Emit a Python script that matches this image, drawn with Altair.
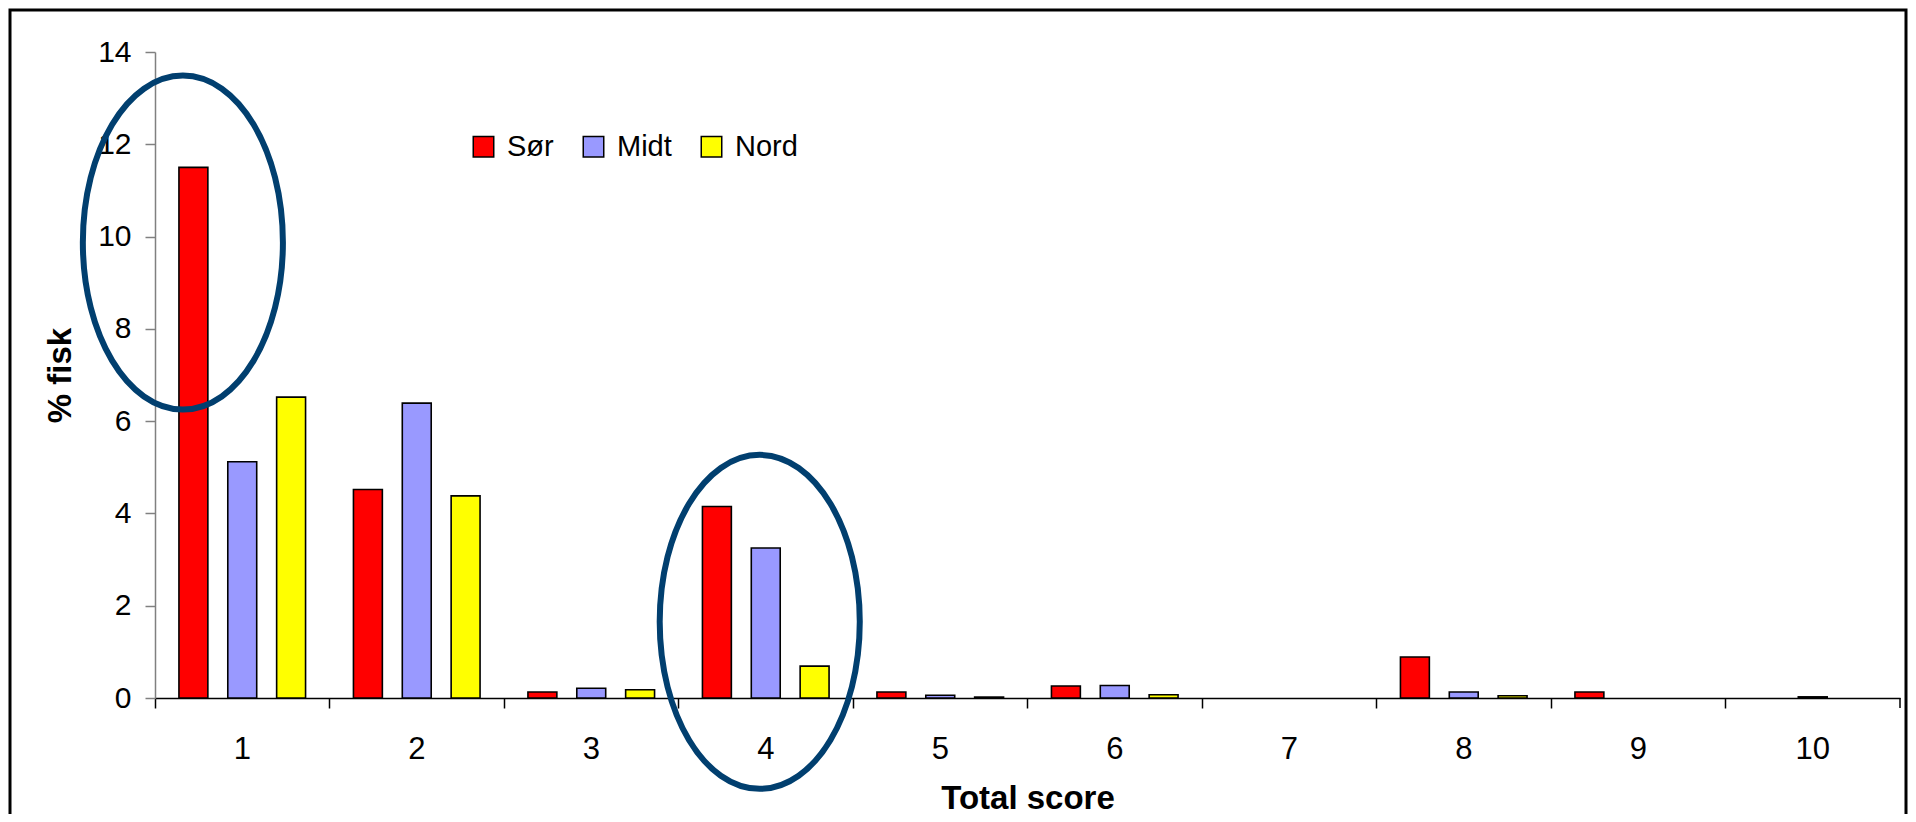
import altair as alt
import pandas as pd

# ---- data ----
scores = ["1", "2", "3", "4", "5", "6", "7", "8", "9", "10"]
regions = ["Sør", "Midt", "Nord"]
region_colors = ["#FF0000", "#9999FF", "#FFFF00"]
sor = [11.5, 4.52, 0.13, 4.15, 0.13, 0.26, 0.0, 0.89, 0.13, 0.0]
midt = [5.12, 6.39, 0.21, 3.25, 0.06, 0.27, 0.0, 0.13, 0.0, 0.025]
nord = [6.52, 4.38, 0.18, 0.69, 0.02, 0.07, 0.0, 0.05, 0.0, 0.0]
y_ticks = [0, 2, 4, 6, 8, 10, 12, 14]

# annotation ellipses (centre category, centre series, centre value)
ellipse_scores = ["1", "4"]
ellipse_regions = ["Sør", "Midt"]
ellipse_values = [9.87, 1.65]

rows = []
for i, s in enumerate(scores):
    for r, vals in zip(regions, [sor, midt, nord]):
        rows.append({"score": s, "region": r, "pct": vals[i]})
df = pd.DataFrame(rows)
ell = pd.DataFrame({"score": ellipse_scores, "region": ellipse_regions, "pct": ellipse_values})

W, H = 1745, 646
FONT = "Liberation Sans"

x_enc = alt.X("score:N", sort=scores,
              scale=alt.Scale(domain=scores, paddingInner=0, paddingOuter=0),
              axis=alt.Axis(title="Total score", labelAngle=0, bandPosition=0,
                            labelFontSize=31, labelPadding=26, labelColor="black",
                            titleFontSize=33, titleFontWeight="bold", titleColor="black",
                            titlePadding=18, tickSize=10, tickColor="black", tickWidth=1.5,
                            domainColor="black", domainWidth=1.5, grid=False,
                            labelFont=FONT, titleFont=FONT))
xoff_enc = alt.XOffset("region:N", sort=regions,
                       scale=alt.Scale(domain=regions, paddingInner=0.408, paddingOuter=0.49))
y_enc = alt.Y("pct:Q", scale=alt.Scale(domain=[0, 14], nice=False),
              axis=alt.Axis(title="% fisk", values=y_ticks, labelFontSize=30,
                            labelPadding=14, labelColor="black", titleFontSize=33,
                            titleFontWeight="bold", titleColor="black", titlePadding=20,
                            tickSize=10, tickColor="#808080", tickWidth=1.5,
                            domainColor="#808080", domainWidth=1.5, grid=False,
                            labelFont=FONT, titleFont=FONT))

bars = alt.Chart(df).transform_filter("datum.pct > 0").mark_bar(
    stroke="black", strokeWidth=1.6).encode(
    x=x_enc,
    xOffset=xoff_enc,
    y=y_enc,
    color=alt.Color("region:N", sort=regions,
                    scale=alt.Scale(domain=regions, range=region_colors),
                    legend=alt.Legend(title=None, orient="none", direction="horizontal",
                                      legendX=314, legendY=80, padding=0,
                                      symbolType="square", symbolSize=420,
                                      symbolStrokeColor="black", symbolStrokeWidth=1.5,
                                      symbolOpacity=1, labelFontSize=29, labelFont=FONT,
                                      labelColor="black", labelOffset=9,
                                      columnPadding=25)),
)

# ellipse outlines in unit space (scaled by the symbol size); slight left shift of centre
path_1 = "M -0.662 0 A 0.599 1 0 1 0 0.536 0 A 0.599 1 0 1 0 -0.662 0 Z"
path_4 = "M -0.635 0 A 0.599 1 0 1 0 0.563 0 A 0.599 1 0 1 0 -0.635 0 Z"
ellipses = alt.Chart(ell).mark_point(
    size=111556, filled=False, stroke="#013f6f", strokeWidth=6, opacity=1,
).encode(
    x=x_enc, xOffset=xoff_enc, y=y_enc,
    shape=alt.Shape("score:N", scale=alt.Scale(domain=ellipse_scores, range=[path_1, path_4]),
                    legend=None),
)

end_tick = alt.Chart(pd.DataFrame({"a": [0]})).mark_rule(color="black", strokeWidth=1.5).encode(
    x=alt.value(W), y=alt.value(H), y2=alt.value(H + 10))

border = alt.Chart(pd.DataFrame({"a": [0]})).mark_rect(
    fillOpacity=0, stroke="black", strokeWidth=3).encode(
    x=alt.value(-145), x2=alt.value(W + 6), y=alt.value(-42), y2=alt.value(H + 200))

chart = alt.layer(bars, ellipses, end_tick, border).properties(
    width=W, height=H,
    padding={"left": 147, "top": 44, "right": 8, "bottom": 116},
    autosize="none",
    background="white",
).configure_view(stroke=None)

chart.save("out.html", embed_options={"renderer": "svg", "actions": False})
